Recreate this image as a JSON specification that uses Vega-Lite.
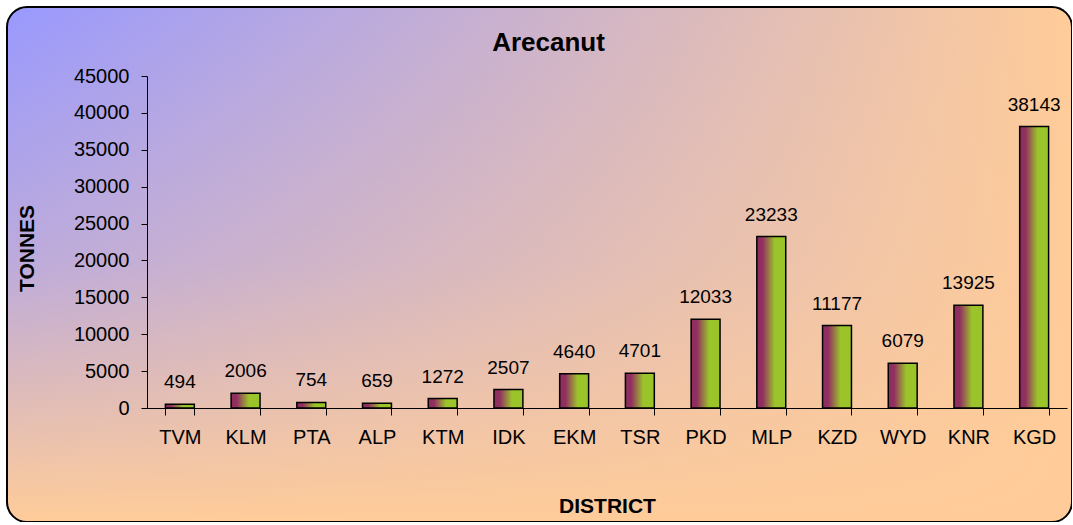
{
  "$schema": "https://vega.github.io/schema/vega-lite/v6.json",
  "width": 1065,
  "height": 515,
  "autosize": "none",
  "padding": {"left": 7, "top": 7, "right": 0, "bottom": 0},
  "background": "white",
  "title": {
    "text": "Arecanut",
    "font": "Liberation Sans",
    "fontSize": 26,
    "fontWeight": "bold",
    "color": "black",
    "anchor": "middle",
    "frame": "group",
    "orient": "top",
    "baseline": "alphabetic",
    "offset": -46,
    "dx": 9,
    "dy": 25
  },
  "data": {
    "values": [
      {"district": "TVM", "tonnes": 494},
      {"district": "KLM", "tonnes": 2006},
      {"district": "PTA", "tonnes": 754},
      {"district": "ALP", "tonnes": 659},
      {"district": "KTM", "tonnes": 1272},
      {"district": "IDK", "tonnes": 2507},
      {"district": "EKM", "tonnes": 4640},
      {"district": "TSR", "tonnes": 4701},
      {"district": "PKD", "tonnes": 12033},
      {"district": "MLP", "tonnes": 23233},
      {"district": "KZD", "tonnes": 11177},
      {"district": "WYD", "tonnes": 6079},
      {"district": "KNR", "tonnes": 13925},
      {"district": "KGD", "tonnes": 38143}
    ]
  },
  "layer": [
    {
      "data": {"values": [{"bg": 1}]},
      "mark": {
        "type": "rect",
        "cornerRadius": 20,
        "fill": {
          "gradient": "linear",
          "x1": 0, "y1": 0, "x2": 1, "y2": 0,
          "stops": [
            {"offset": 0, "color": "#9999ff"},
            {"offset": 1, "color": "#ffcc99"}
          ]
        }
      },
      "encoding": {}
    },
    {
      "data": {"values": [{"bg": 2}]},
      "mark": {
        "type": "rect",
        "cornerRadius": 20,
        "stroke": "black",
        "strokeWidth": 2,
        "fill": {
          "gradient": "linear",
          "x1": 0, "y1": 0, "x2": 0, "y2": 1,
          "stops": [
            {"offset": 0, "color": "rgba(255,204,153,0)"},
            {"offset": 0.5, "color": "rgba(255,204,153,0.35)"},
            {"offset": 1, "color": "rgba(255,204,153,1)"}
          ]
        }
      },
      "encoding": {}
    },
    {
      "mark": {
        "type": "bar",
        "stroke": "black",
        "strokeWidth": 1.5,
        "fill": {
          "gradient": "linear",
          "x1": 0, "y1": 0, "x2": 1, "y2": 0,
          "stops": [
            {"offset": 0, "color": "#8c2d5f"},
            {"offset": 0.2, "color": "#922f60"},
            {"offset": 0.62, "color": "#9bc42b"},
            {"offset": 1, "color": "#9bc42b"}
          ]
        }
      },
      "encoding": {
        "x": {
          "field": "district",
          "type": "nominal",
          "sort": null,
          "scale": {"range": [140, 1060], "paddingInner": 0.56, "paddingOuter": 0.28},
          "axis": {
            "orient": "bottom",
            "offset": -114,
            "zindex": 1,
            "title": "DISTRICT",
            "titleFont": "Liberation Sans",
            "titleFontSize": 21,
            "titleFontWeight": "bold",
            "titleColor": "black",
            "titleX": 600,
            "titleY": 104,
            "titleAlign": "center",
            "titleBaseline": "alphabetic",
            "labelFont": "Liberation Sans",
            "labelFontSize": 20,
            "labelColor": "black",
            "labelAngle": 0,
            "labelPadding": 12,
            "tickSize": 7,
            "tickColor": "black",
            "tickBand": "extent",
            "domainColor": "black",
            "grid": false
          }
        },
        "y": {
          "field": "tonnes",
          "type": "quantitative",
          "scale": {"domain": [0, 45000], "range": [401, 69], "nice": false},
          "axis": {
            "orient": "left",
            "offset": -140,
            "zindex": 1,
            "values": [0, 5000, 10000, 15000, 20000, 25000, 30000, 35000, 40000, 45000],
            "format": "d",
            "title": "TONNES",
            "titleFont": "Liberation Sans",
            "titleFontSize": 21,
            "titleFontWeight": "bold",
            "titleColor": "black",
            "titleAngle": -90,
            "titleX": -113.5,
            "titleY": 241,
            "titleAlign": "center",
            "titleBaseline": "alphabetic",
            "labelFont": "Liberation Sans",
            "labelFontSize": 20,
            "labelColor": "black",
            "labelPadding": 12,
            "tickSize": 6,
            "tickColor": "black",
            "domainColor": "black",
            "grid": false
          }
        }
      }
    },
    {
      "mark": {
        "type": "text",
        "font": "Liberation Sans",
        "fontSize": 19,
        "color": "black",
        "baseline": "alphabetic",
        "dy": -16
      },
      "encoding": {
        "x": {"field": "district", "type": "nominal", "sort": null},
        "y": {"field": "tonnes", "type": "quantitative"},
        "text": {"field": "tonnes", "type": "quantitative", "format": "d"}
      }
    }
  ],
  "config": {
    "view": {"stroke": null},
    "font": "Liberation Sans"
  }
}
